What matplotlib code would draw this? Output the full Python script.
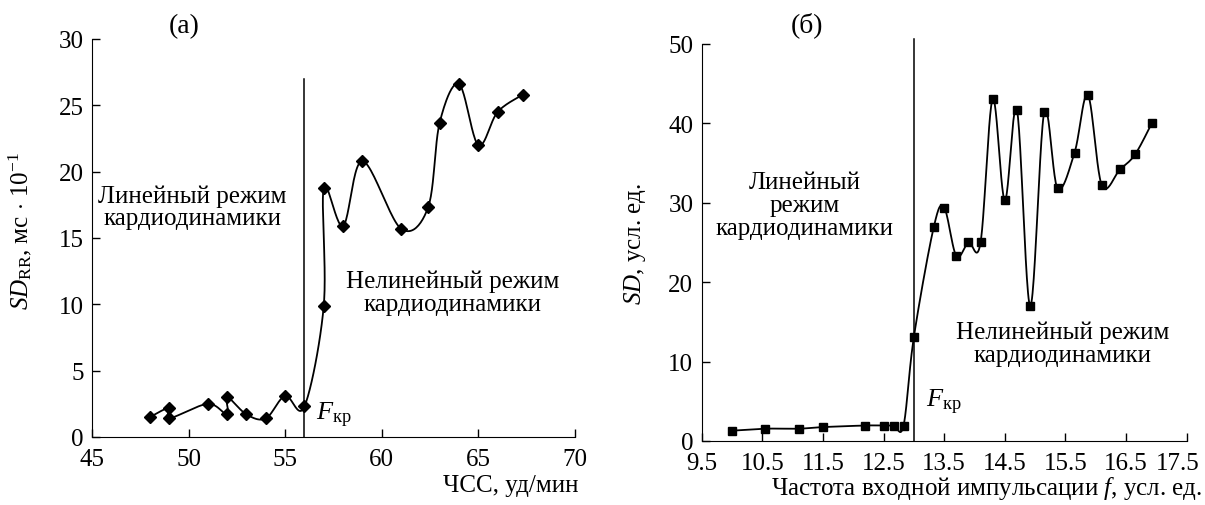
import numpy as np
import matplotlib
matplotlib.use("Agg")
import matplotlib.pyplot as plt
from matplotlib.transforms import ScaledTranslation

plt.rcParams['font.family'] = ['Liberation Serif', 'DejaVu Serif']
plt.rcParams['mathtext.fontset'] = 'custom'
plt.rcParams['mathtext.rm'] = 'Liberation Serif'
plt.rcParams['mathtext.it'] = 'Liberation Serif:italic'
plt.rcParams['font.size'] = 18

# (а) ЧСС и SD_RR
hr_a = [48, 49, 49, 51, 52, 52, 53, 54, 55, 56, 57, 57, 58, 59, 61, 62.4, 63, 64, 65, 66, 67.3]
sd_a = [1.5, 2.2, 1.4, 2.5, 1.7, 3.0, 1.7, 1.4, 3.1, 2.3, 9.9, 18.8, 15.9, 20.8, 15.7, 17.3,
        23.7, 26.6, 22.0, 24.5, 25.8]
fcr_a = 56

# (б) частота входной импульсации и SD
f_b = [10.0, 10.55, 11.1, 11.5, 12.2, 12.5, 12.67, 12.83, 13.0, 13.33, 13.5, 13.7, 13.9, 14.1,
       14.3, 14.5, 14.7, 14.92, 15.15, 15.37, 15.65, 15.87, 16.1, 16.4, 16.65, 16.93]
sd_b = [1.3, 1.55, 1.55, 1.75, 1.95, 1.95, 1.95, 1.95, 13.1, 27.0, 29.4, 23.3, 25.0, 25.0,
        43.1, 30.3, 41.7, 17.0, 41.4, 31.8, 36.3, 43.6, 32.2, 34.2, 36.1, 40.1]
fcr_b = 13.0


# сглаженная линия как в Excel (Catmull-Rom), считаем в пикселях осей
def smooth(ax, x, y, n=25):
    w, h = ax.bbox.width, ax.bbox.height
    x0, x1 = ax.get_xlim()
    y0, y1 = ax.get_ylim()
    sx, sy = w / (x1 - x0), h / (y1 - y0)
    P = np.column_stack([np.asarray(x) * sx, np.asarray(y) * sy])
    P = np.vstack([P[0], P, P[-1]])
    t = np.linspace(0, 1, n)[:, None]
    out = []
    for i in range(1, len(P) - 2):
        p0, p1, p2, p3 = P[i - 1], P[i], P[i + 1], P[i + 2]
        seg = 0.5 * ((2 * p1) + (-p0 + p2) * t + (2 * p0 - 5 * p1 + 4 * p2 - p3) * t ** 2
                     + (-p0 + 3 * p1 - 3 * p2 + p3) * t ** 3)
        out.append(seg)
    out = np.vstack(out)
    return out[:, 0] / sx, out[:, 1] / sy


def style(ax):
    ax.spines['top'].set_visible(False)
    ax.spines['right'].set_visible(False)
    ax.tick_params(direction='in', length=6, width=1, pad=6)
    ax.tick_params(axis='x', pad=8)


fig = plt.figure(figsize=(12.05, 5.06), dpi=100)
ax1 = fig.add_axes([0.0763, 0.1344, 0.4008, 0.7866])
ax2 = fig.add_axes([0.5823, 0.1265, 0.4025, 0.7846])

# панель (а)
ax1.set_xlim(45, 70)
ax1.set_ylim(0, 30)
ax1.set_xticks(range(45, 71, 5))
ax1.set_yticks(range(0, 31, 5))
style(ax1)
xs, ys = smooth(ax1, hr_a, sd_a)
ax1.plot(xs, ys, color='black', lw=1.3)
ax1.plot(hr_a, sd_a, 'D', color='black', ms=6.6)
ax1.plot([fcr_a, fcr_a], [0, 27], color='black', lw=1.1)
ax1.text(49.75, 31.0, '(а)', ha='center', va='center', fontsize=20)
ax1.text(50.2, 17.35, 'Линейный режим\nкардиодинамики', ha='center', va='center',
         linespacing=1.05)
ax1.text(63.65, 10.9, 'Нелинейный режим\nкардиодинамики', ha='center', va='center',
         linespacing=1.05)
ax1.text(56.6, 1.7, r'$F_{\mathrm{кр}}$', ha='left', va='center', fontsize=19)
ax1.set_ylabel(r'$SD_{\mathrm{RR}}$, мс $\cdot$ 10$^{-1}$')
ax1.yaxis.set_label_coords(-0.120, 0.52)
ax1.set_xlabel('ЧСС, уд/мин', loc='right')
ax1.xaxis.set_label_coords(1.008, -0.12)
ax1.xaxis.label.set_va('center')

# панель (б)
ax2.set_xlim(9.5, 17.5)
ax2.set_ylim(0, 50)
ax2.set_xticks(np.arange(9.5, 17.6, 1.0))
ax2.set_xticklabels(['9.5', '10.5', '11.5', '12.5', '13.5', '14.5', '15.5', '16.5', '17.5'])
ax2.set_yticks(range(0, 51, 10))
style(ax2)
# последняя подпись 17.5 чуть левее, чтобы не обрезалась
last = ax2.get_xticklabels()[-1]
last.set_ha('right')
last.set_transform(last.get_transform() + ScaledTranslation(9 / 72, 0, fig.dpi_scale_trans))
xs, ys = smooth(ax2, f_b, sd_b)
ax2.plot(xs, ys, color='black', lw=1.3)
ax2.plot(f_b, sd_b, 's', color='black', ms=5.8)
ax2.plot([fcr_b, fcr_b], [0, 50.6], color='black', lw=1.1, clip_on=False)
ax2.text(11.23, 52.5, '(б)', ha='center', va='center', fontsize=20, clip_on=False)
ax2.text(11.2, 29.7, 'Линейный\nрежим\nкардиодинамики', ha='center', va='center',
         linespacing=1.05)
ax2.text(15.45, 12.35, 'Нелинейный режим\nкардиодинамики', ha='center', va='center',
         linespacing=1.05)
ax2.text(13.2, 5.0, r'$F_{\mathrm{кр}}$', ha='left', va='center', fontsize=19)
ax2.set_ylabel(r'$SD$, усл. ед.')
ax2.yaxis.set_label_coords(-0.111, 0.5)
ax2.set_xlabel(r'Частота входной импульсации $f$, усл. ед.', loc='right')
ax2.xaxis.set_label_coords(1.031, -0.118)
ax2.xaxis.label.set_va('center')

fig.savefig('out.png', dpi=100)
